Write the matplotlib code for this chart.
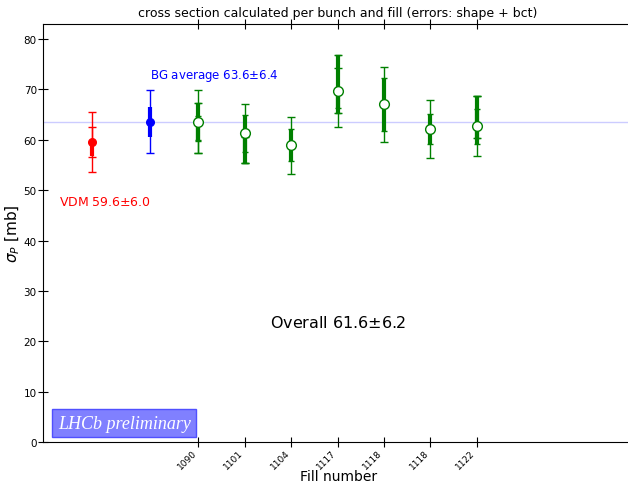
import matplotlib
matplotlib.use("Agg")
import matplotlib.pyplot as plt
import numpy as np

# reference points
vdm_x = -1.3
vdm_val = 59.6
vdm_tot = 6.0
vdm_inner = 3.0
bg_x = -0.05
bg_val = 63.6
bg_tot = 6.3
bg_shape = 3.0

# fills (position index, label, fill average)
fill_pos = [1, 2, 3, 4, 5, 6, 7]
fill_labels = ["1090", "1101", "1104", "1117", "1118", "1118", "1122"]
fill_avg = [63.6, 61.3, 59.0, 69.7, 67.1, 62.2, 62.7]

# per bunch values: fill position, value, shape error, total error
bunch_fill = [1, 1, 2, 2, 3, 4, 4, 5, 6, 7, 7]
bunch_val = [63.6, 62.3, 61.3, 58.0, 58.9, 71.1, 68.35, 67.0, 62.1, 62.7, 64.5]
bunch_shape = [3.7, 2.5, 3.7, 2.6, 3.2, 5.8, 2.0, 5.3, 3.0, 3.5, 4.2]
bunch_tot = [6.2, 5.0, 5.9, 2.6, 5.7, 5.8, 5.85, 7.5, 5.8, 6.0, 4.2]

overall_val = 61.6
overall_err = 6.2
bg_err_text = 6.4

fig = plt.figure(figsize=(6.28, 4.85), dpi=100)
ax = fig.add_axes([0.0685, 0.0866, 0.94, 0.862])

ax.axhline(bg_val, color="#ccccff", lw=1, zorder=0)

# VDM
ax.errorbar([vdm_x], [vdm_val], yerr=vdm_tot, fmt="none", ecolor="red", elinewidth=1, capsize=3)
ax.errorbar([vdm_x], [vdm_val], yerr=vdm_inner, fmt="none", ecolor="red", elinewidth=1, capsize=3)
ax.errorbar([vdm_x], [vdm_val], yerr=[[vdm_inner - 0.1], [0.0]], fmt="none", ecolor="red", elinewidth=3)
ax.plot([vdm_x], [vdm_val], "o", color="red", ms=5.5)

# BG average
ax.errorbar([bg_x], [bg_val], yerr=bg_tot, fmt="none", ecolor="blue", elinewidth=1, capsize=3)
ax.errorbar([bg_x], [bg_val], yerr=bg_shape, fmt="none", ecolor="blue", elinewidth=3)
ax.plot([bg_x], [bg_val], "o", color="blue", ms=5.5)

# per bunch results
ax.errorbar(bunch_fill, bunch_val, yerr=bunch_tot, fmt="none", ecolor="green", elinewidth=1, capsize=3)
ax.errorbar(bunch_fill, bunch_val, yerr=bunch_shape, fmt="none", ecolor="green",
            elinewidth=3, capsize=2, capthick=1)
ax.plot(fill_pos, fill_avg, "o", mfc="white", mec="green", mew=1, ms=7, ls="none")

ax.text(bg_x, 72.8, "BG average %.1f$\\pm$%.1f" % (bg_val, bg_err_text), color="blue",
        fontsize=8.5, va="center")
ax.text(-2.0, 47.8, "VDM %.1f$\\pm$%.1f" % (vdm_val, vdm_tot), color="red", fontsize=9, va="center")
ax.text(4.0, 23.8, "Overall %.1f$\\pm$%.1f" % (overall_val, overall_err), fontsize=11.5,
        ha="center", va="center")
ax.text(0.025, 0.045, "LHCb preliminary", transform=ax.transAxes, color="white",
        fontsize=13, fontstyle="italic", family="Liberation Serif", va="center",
        bbox=dict(facecolor="#8080ff", edgecolor="#5050ff", boxstyle="square,pad=0.3"))

ax.set_xlim(-2.347, 10.37)
ax.set_ylim(0, 83)
ax.set_xticks(fill_pos)
ax.set_xticklabels(fill_labels, rotation=45, ha="right", fontsize=6.5)
ax.set_yticks(np.arange(0, 81, 10))
ax.tick_params(axis="y", labelsize=7.5, direction="inout", length=7, pad=1)
ax.tick_params(axis="x", direction="inout", length=7, top=True, pad=1)
ax.spines["right"].set_visible(False)
ax.set_xlabel("Fill number", fontsize=10)
ax.xaxis.set_label_coords(0.5, -0.065)
ax.set_ylabel("$\\sigma_P$ [mb]", fontsize=11)
ax.yaxis.set_label_coords(-0.035, 0.5)
ax.set_title("cross section calculated per bunch and fill (errors: shape + bct)", fontsize=9)

fig.savefig("out.png", dpi=100)
